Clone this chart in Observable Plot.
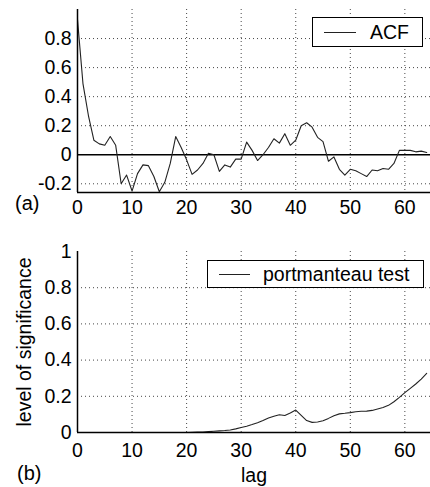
<!DOCTYPE html>
<html>
<head>
<meta charset="utf-8">
<script src="https://cdn.jsdelivr.net/npm/d3@7"></script>
<script src="https://cdn.jsdelivr.net/npm/@observablehq/plot@0.6"></script>
<style>
  body { margin: 0; background: #fff; }
  #wrap { position: relative; width: 430px; height: 487px; overflow: hidden; background: #fff;
          font-family: "Liberation Sans", Arial, Helvetica, sans-serif; color: #000; }
  .panel { position: absolute; left: 0; }
  .legend { position: absolute; border: 1px solid #000; background: #fff; box-sizing: border-box;
            font-size: 19.5px; line-height: 20px; }
  .legend .sw { position: absolute; height: 0; border-top: 1px solid #222; }
  .legend .tx { position: absolute; white-space: nowrap; }
  .tag { position: absolute; font-size: 20px; line-height: 20px; white-space: nowrap; }
</style>
</head>
<body>
<div id="wrap"></div>
<script>
// ---- data ----
const lags = [0,1,2,3,4,5,6,7,8,9,10,11,12,13,14,15,16,17,18,19,20,21,22,23,24,25,26,27,28,29,30,31,32,33,34,35,36,37,38,39,40,41,42,43,44,45,46,47,48,49,50,51,52,53,54,55,56,57,58,59,60,61,62,63,64];
const acf = [0.93,0.49,0.27,0.10,0.075,0.065,0.125,0.065,-0.20,-0.14,
             -0.25,-0.13,-0.07,-0.075,-0.15,-0.255,-0.19,-0.06,0.125,0.05,
             -0.035,-0.135,-0.105,-0.06,0.01,0.0,-0.115,-0.07,-0.085,-0.03,
             -0.03,0.087,0.03,-0.04,0.0,0.05,0.11,0.08,0.145,0.065,
             0.10,0.20,0.22,0.19,0.12,0.09,-0.045,-0.015,-0.10,-0.14,
             -0.10,-0.11,-0.13,-0.15,-0.105,-0.11,-0.095,-0.10,-0.06,0.03,
             0.03,0.03,0.02,0.025,0.015];
const portmanteau = [0,0,0,0,0,0,0,0,0,0,
                     0,0,0,0,0,0,0,0,0,0,
                     0,0.001,0.002,0.003,0.005,0.007,0.009,0.011,0.014,0.02,
                     0.028,0.035,0.044,0.054,0.066,0.08,0.09,0.098,0.094,0.108,
                     0.124,0.095,0.066,0.056,0.058,0.065,0.078,0.093,0.103,0.106,
                     0.11,0.115,0.117,0.118,0.122,0.13,0.138,0.15,0.17,0.194,
                     0.22,0.244,0.268,0.295,0.327];
const xTicks = [0,10,20,30,40,50,60];
const acfTicks = [-0.2,0,0.2,0.4,0.6,0.8];
const sigTicks = [0,0.2,0.4,0.6,0.8,1];
const xDomain = [0, 64.7];
const acfDomain = [-0.26, 1];
const sigDomain = [0, 1];
const legendLabels = ["ACF", "portmanteau test"];
const panelTags = ["(a)", "(b)"];
const xLabel = "lag";
const yLabelB = "level of significance";

// ---- build ----
const font = '"Liberation Sans", Arial, Helvetica, sans-serif';
const gridStyle = {stroke: "#333", strokeOpacity: 0.9, strokeDasharray: "1,3", strokeWidth: 1};
const fmt = d => String(d);

const acfData = lags.map((l, i) => ({lag: l, v: acf[i]}));
const sigData = lags.map((l, i) => ({lag: l, v: portmanteau[i]}));

const topPlot = Plot.plot({
  width: 430, height: 220,
  marginLeft: 77, marginRight: 0, marginTop: 9, marginBottom: 28,
  x: {domain: xDomain},
  y: {domain: acfDomain},
  style: {fontFamily: font, fontSize: "19.5px", color: "#000", background: "transparent", overflow: "visible"},
  marks: [
    Plot.gridX(xTicks.filter(d => d !== 0), gridStyle),
    Plot.gridY(acfTicks.filter(d => d !== 0), gridStyle),
    Plot.ruleY([0], {stroke: "#000", strokeWidth: 1.5}),
    Plot.line(acfData, {x: "lag", y: "v", stroke: "#222", strokeWidth: 1.1}),
    Plot.ruleX([xDomain[0]], {stroke: "#000", strokeWidth: 1.5}),
    Plot.ruleY([acfDomain[0]], {stroke: "#000", strokeWidth: 1.5}),
    Plot.axisX({ticks: xTicks, tickSize: 0, tickPadding: 8, tickFormat: fmt, label: null}),
    Plot.axisY({ticks: acfTicks, tickSize: 0, tickPadding: 6, tickFormat: fmt, label: null})
  ]
});

const botPlot = Plot.plot({
  width: 430, height: 267,
  marginLeft: 77, marginRight: 0, marginTop: 31, marginBottom: 55,
  x: {domain: xDomain},
  y: {domain: sigDomain},
  style: {fontFamily: font, fontSize: "19.5px", color: "#000", background: "transparent", overflow: "visible"},
  marks: [
    Plot.gridX(xTicks.filter(d => d !== 0), gridStyle),
    Plot.gridY(sigTicks.filter(d => d !== 0 && d !== 1), gridStyle),
    Plot.line(sigData, {x: "lag", y: "v", stroke: "#222", strokeWidth: 1.1}),
    Plot.ruleX([xDomain[0]], {stroke: "#000", strokeWidth: 1.5}),
    Plot.ruleY([sigDomain[0]], {stroke: "#000", strokeWidth: 1.5}),
    Plot.axisX({ticks: xTicks, tickSize: 0, tickPadding: 11, tickFormat: fmt,
                label: xLabel, labelAnchor: "center", labelArrow: "none", labelOffset: 49}),
    Plot.axisY({ticks: sigTicks, tickSize: 0, tickPadding: 6, tickFormat: fmt,
                label: yLabelB, labelAnchor: "center", labelArrow: "none", labelOffset: 60})
  ]
});

const wrap = document.getElementById("wrap");
topPlot.classList.add("panel"); topPlot.style.top = "0px";
botPlot.classList.add("panel"); botPlot.style.top = "220px";
wrap.appendChild(topPlot);
wrap.appendChild(botPlot);

function addLegend(label, box, sw, txLeft) {
  const d = document.createElement("div");
  d.className = "legend";
  Object.assign(d.style, {left: box[0] + "px", top: box[1] + "px", width: box[2] + "px", height: box[3] + "px"});
  const s = document.createElement("div");
  s.className = "sw";
  Object.assign(s.style, {left: sw[0] + "px", width: sw[1] + "px", top: (box[3] / 2 - 1) + "px"});
  const t = document.createElement("div");
  t.className = "tx";
  t.textContent = label;
  Object.assign(t.style, {left: txLeft + "px", top: (box[3] / 2 - 11) + "px"});
  d.appendChild(s); d.appendChild(t);
  wrap.appendChild(d);
}
addLegend(legendLabels[0], [312, 17, 111, 30], [11, 32], 57);
addLegend(legendLabels[1], [207, 260, 217, 28], [11, 31], 55);

function addTag(label, left, top) {
  const t = document.createElement("div");
  t.className = "tag";
  t.textContent = label;
  t.style.left = left + "px"; t.style.top = top + "px";
  wrap.appendChild(t);
}
addTag(panelTags[0], 15, 193);
addTag(panelTags[1], 17, 463);
</script>
</body>
</html>
